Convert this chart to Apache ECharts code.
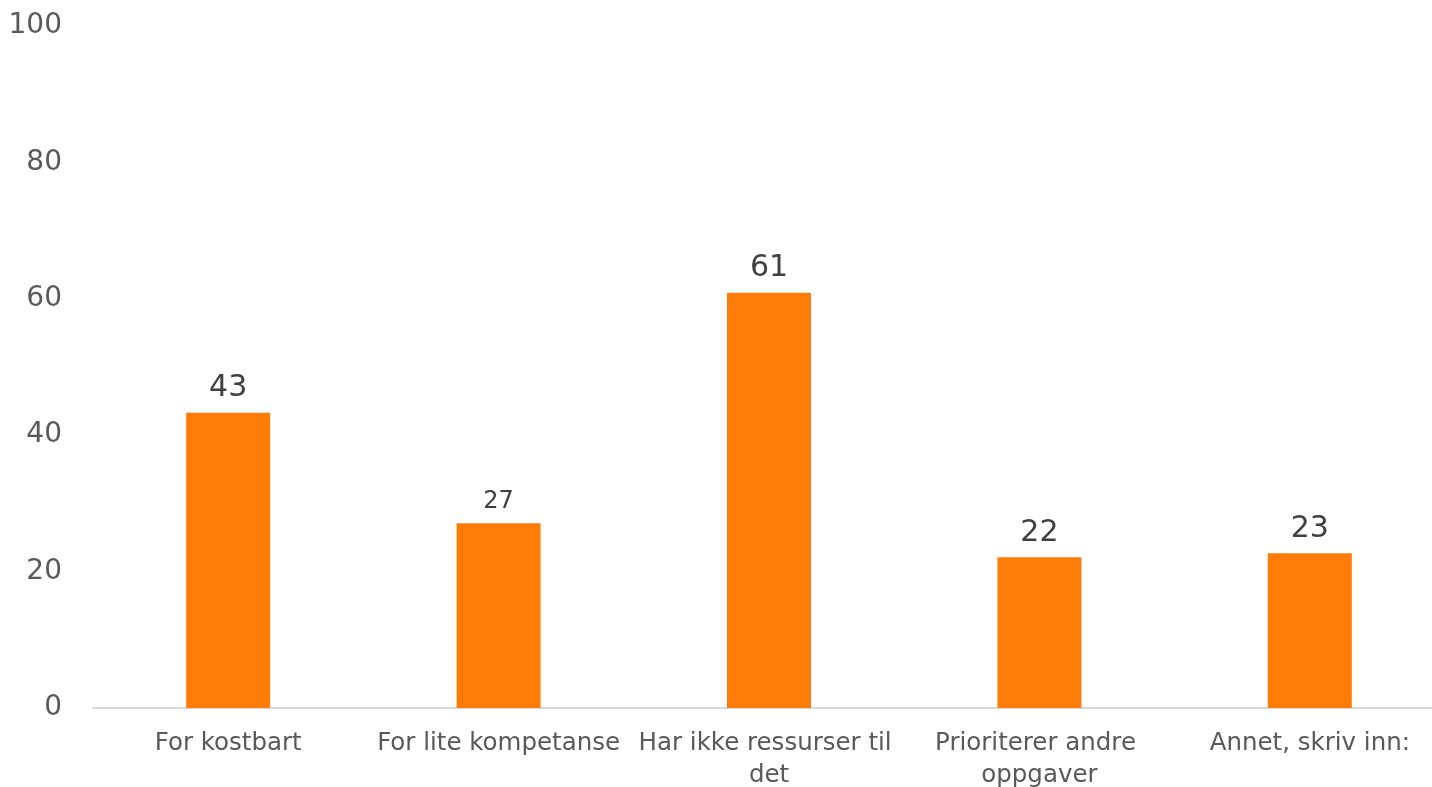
<!DOCTYPE html>
<html>
<head>
<meta charset="utf-8">
<script src="https://cdn.jsdelivr.net/npm/echarts@6/dist/echarts.min.js"></script>
<style>
html,body{margin:0;padding:0;background:#fff;}
#chart{width:1432px;height:787px;}
</style>
</head>
<body>
<div id="chart"></div>
<script>
const categories = ["For kostbart", "For lite kompetanse", "Har ikke ressurser til det", "Prioriterer andre oppgaver", "Annet, skriv inn:"];
const values = [43.3, 27.1, 60.9, 22.1, 22.7];
const labelSizes = [30, 24, 30, 30, 30];
const yTicks = [0, 20, 40, 60, 80, 100];

const FONT = "DejaVu Sans";
const chart = echarts.init(document.getElementById('chart'), null, {renderer: 'canvas'});
chart.setOption({
  animation: false,
  backgroundColor: '#ffffff',
  grid: {left: 93, top: 26, bottom: 79, right: -13, containLabel: false, outerBoundsMode: 'none'},
  xAxis: {
    type: 'category',
    data: categories,
    axisLine: {show: true, lineStyle: {color: '#d9d9d9', width: 2}},
    axisTick: {show: false},
    axisLabel: {
      color: '#595959', fontFamily: FONT, fontSize: 24.5, margin: 20,
      lineHeight: 32, width: 268, overflow: 'break', interval: 0
    },
    splitLine: {show: false}
  },
  yAxis: {
    type: 'value',
    min: yTicks[0], max: yTicks[yTicks.length - 1], interval: yTicks[1] - yTicks[0],
    axisLine: {show: false},
    axisTick: {show: false},
    splitLine: {show: false},
    axisLabel: {color: '#595959', fontFamily: FONT, fontSize: 28, margin: 31}
  },
  series: [{
    type: 'bar',
    barWidth: 84,
    itemStyle: {color: '#FF7C08'},
    data: values.map((v, i) => ({
      value: v,
      label: {fontSize: labelSizes[i]}
    })),
    label: {
      show: true, position: 'top', distance: 9,
      color: '#404040', fontFamily: FONT,
      formatter: p => Math.round(p.value)
    }
  }]
});
</script>
</body>
</html>
